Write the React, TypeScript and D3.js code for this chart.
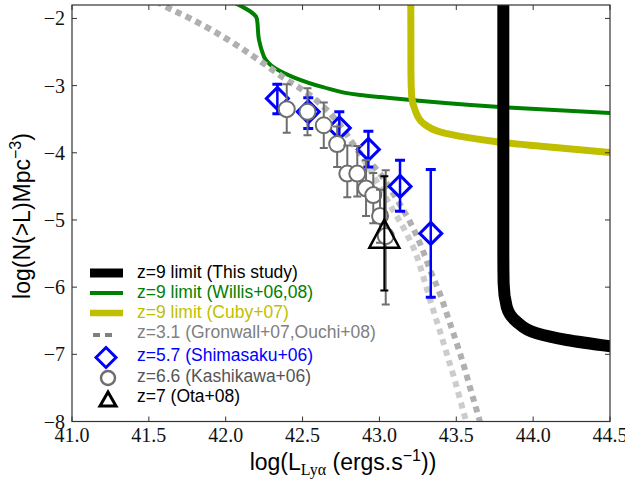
import React from "react";
import * as d3 from "d3";

// ---- data ----
const thisStudyL = [43.806, 43.806, 43.808, 43.828, 43.893, 44.023, 44.219, 44.55];
const thisStudyN = [-1.7, -5.5, -5.943, -6.292, -6.515, -6.688, -6.787, -6.895];

const willisL = [42.06, 42.202, 42.217, 42.234, 42.262, 42.301, 42.353, 42.438, 42.633, 42.874, 43.004, 43.785, 44.55];
const willisN = [-1.77, -2.0, -2.323, -2.472, -2.62, -2.71, -2.784, -2.873, -3.022, -3.141, -3.171, -3.32, -3.415];

const cubyL = [43.204, 43.205, 43.21, 43.232, 43.284, 43.394, 43.568, 43.763, 44.088, 44.55];
const cubyN = [-1.7, -2.8, -3.167, -3.365, -3.558, -3.688, -3.771, -3.836, -3.911, -4.005];

const gronwallL = [41.55, 41.592, 41.768, 41.93, 42.093, 42.243, 42.399, 42.529, 42.724, 42.854, 42.95, 43.02, 43.088, 43.18, 43.245, 43.29, 43.342, 43.394, 43.446, 43.492, 43.54, 43.57];
const gronwallN = [-1.74, -1.8, -2.0, -2.2, -2.43, -2.665, -2.918, -3.11, -3.53, -3.95, -4.3, -4.58, -4.85, -5.22, -5.55, -5.88, -6.28, -6.66, -7.05, -7.4, -7.8, -8.05];

const ouchiL = [41.55, 41.592, 41.768, 41.93, 42.093, 42.243, 42.399, 42.529, 42.724, 42.854, 43.0, 43.115, 43.199, 43.277, 43.329, 43.394, 43.446, 43.505, 43.557, 43.59, 43.635, 43.66];
const ouchiN = [-1.74, -1.8, -2.0, -2.2, -2.43, -2.665, -2.918, -3.11, -3.53, -3.95, -4.3, -4.7, -5.03, -5.42, -5.74, -6.1, -6.45, -6.85, -7.23, -7.5, -7.85, -8.05];

const shimaL = [42.336, 42.537, 42.739, 42.928, 43.134, 43.334];
const shimaN = [-3.19, -3.39, -3.63, -3.95, -4.5, -5.2];
const shimaHi = [-2.98, -3.18, -3.39, -3.68, -4.11, -4.25];
const shimaLo = [-3.42, -3.64, -3.86, -4.21, -4.87, -6.15];

const kashiL = [42.397, 42.532, 42.638, 42.725, 42.791, 42.856, 42.913, 42.96, 43.004, 43.041];
const kashiN = [-3.35, -3.39, -3.59, -3.87, -4.31, -4.31, -4.53, -4.63, -4.94, -5.24];
const kashiHi = [-2.98, -3.04, -3.25, -3.61, -3.89, -3.9, -4.11, -4.3, -4.55, -4.26];
const kashiLo = [-3.7, -3.74, -3.93, -4.21, -4.66, -4.65, -4.94, -5.05, -5.34, -6.26];

const otaL = [43.032];
const otaN = [-5.22];
const otaHi = [-4.35];
const otaLo = [-6.05];

const xTicks = [41.0, 41.5, 42.0, 42.5, 43.0, 43.5, 44.0, 44.5];
const yTicks = [-8, -7, -6, -5, -4, -3, -2];

const legendLabels = [
  "z=9 limit (This study)",
  "z=9 limit (Willis+06,08)",
  "z=9 limit (Cuby+07)",
  "z=3.1 (Gronwall+07,Ouchi+08)",
  "z=5.7 (Shimasaku+06)",
  "z=6.6 (Kashikawa+06)",
  "z=7 (Ota+08)",
];

// ---- layout ----
const W = 625, H = 479;
const L = 72, R = 610, T = 5, B = 421.5;
const x = d3.scaleLinear().domain([41, 44.5]).range([L, R]);
const y = d3.scaleLinear().domain([-8, -1.8]).range([B, T]);

const BLUE = "#0000ff", GREEN = "#008000", YELLOW = "#bfbf00", GRAYT = "#808080", CIRC = "#6e6e6e";
const SANS = "'Liberation Sans', Arial, Helvetica, sans-serif";
const SERIF = "'Liberation Serif', 'Times New Roman', serif";

const zip = (a: number[], b: number[]) => a.map((v, i) => [v, b[i]] as [number, number]);
const lineY = d3.line<[number, number]>().x(d => x(d[0])).y(d => y(d[1])).curve(d3.curveMonotoneY);
const lineX = d3.line<[number, number]>().x(d => x(d[0])).y(d => y(d[1])).curve(d3.curveMonotoneX);

function ErrBar({ lx, n, hi, lo, color, w, cap, capW }: any) {
  const cx = x(lx);
  return (
    <g stroke={color} fill="none">
      <line x1={cx} x2={cx} y1={y(hi)} y2={y(lo)} strokeWidth={w} />
      <line x1={cx - cap} x2={cx + cap} y1={y(hi)} y2={y(hi)} strokeWidth={capW} />
      <line x1={cx - cap} x2={cx + cap} y1={y(lo)} y2={y(lo)} strokeWidth={capW} />
    </g>
  );
}

const diamond = (cx: number, cy: number, s: number) =>
  `M${cx},${cy - s}L${cx + s},${cy}L${cx},${cy + s}L${cx - s},${cy}Z`;
const triangle = (cx: number, cy: number, hw: number, up: number, down: number) =>
  `M${cx},${cy - up}L${cx + hw},${cy + down}L${cx - hw},${cy + down}Z`;

export default function App() {
  const legendRows = [272, 292, 312, 332, 355, 376, 396];
  const legendColors = ["#000000", GREEN, YELLOW, GRAYT, BLUE, "#555555", "#000000"];
  return (
    <svg width={W} height={H} style={{ position: "absolute", left: 0, top: 0, background: "#fff" }}>
      <defs>
        <clipPath id="plot">
          <rect x={L} y={T} width={R - L} height={B - T} />
        </clipPath>
      </defs>
      <rect x={0} y={0} width={W} height={H} fill="#fff" />
      <g clipPath="url(#plot)">
        <path d={lineY(zip(willisL, willisN))!} stroke={GREEN} strokeWidth={4} fill="none" />
        <path d={lineY(zip(cubyL, cubyN))!} stroke={YELLOW} strokeWidth={7} fill="none" />
        <path d={lineY(zip(thisStudyL, thisStudyN))!} stroke="#000" strokeWidth={12} fill="none" />
        <path d={lineX(zip(gronwallL, gronwallN))!} stroke="#cccccc" strokeWidth={6} strokeDasharray="6,5" fill="none" />
        <path d={lineX(zip(ouchiL, ouchiN))!} stroke="#b0b0b0" strokeWidth={6} strokeDasharray="6,5" fill="none" />

        {shimaL.map((l, i) => (
          <g key={"s" + i}>
            <ErrBar lx={l} n={shimaN[i]} hi={shimaHi[i]} lo={shimaLo[i]} color={BLUE} w={2.5} cap={5} capW={3} />
            <path d={diamond(x(l), y(shimaN[i]), 11)} stroke={BLUE} strokeWidth={3} fill="none" />
          </g>
        ))}
        {kashiL.map((l, i) => (
          <g key={"k" + i}>
            <ErrBar lx={l} n={kashiN[i]} hi={kashiHi[i]} lo={kashiLo[i]} color={CIRC} w={2} cap={4} capW={2} />
            <circle cx={x(l)} cy={y(kashiN[i])} r={8} stroke={CIRC} strokeWidth={2} fill="#fff" />
          </g>
        ))}
        {otaL.map((l, i) => (
          <g key={"o" + i}>
            <ErrBar lx={l} n={otaN[i]} hi={otaHi[i]} lo={otaLo[i]} color="#000" w={2} cap={4} capW={2} />
            <path d={triangle(x(l), y(otaN[i]), 15, 15, 13)} stroke="#000" strokeWidth={2.5} fill="none" />
          </g>
        ))}
      </g>

      {/* frame */}
      <rect x={L} y={T} width={R - L} height={B - T} fill="none" stroke="#333" strokeWidth={1.2} />
      {/* ticks */}
      {xTicks.map(t => (
        <g key={"xt" + t}>
          <line x1={x(t)} x2={x(t)} y1={B} y2={B - 5} stroke="#333" />
          <line x1={x(t)} x2={x(t)} y1={T} y2={T + 5} stroke="#333" />
          <text x={x(t)} y={442} fontFamily={SERIF} fontSize={20} textAnchor="middle" fill="#111">
            {d3.format(".1f")(t)}
          </text>
        </g>
      ))}
      {yTicks.map(t => (
        <g key={"yt" + t}>
          <line x1={L} x2={L + 5} y1={y(t)} y2={y(t)} stroke="#333" />
          <line x1={R} x2={R - 5} y1={y(t)} y2={y(t)} stroke="#333" />
          <text x={65} y={y(t)} dy="0.35em" fontFamily={SERIF} fontSize={20} textAnchor="end" fill="#111">
            {"\u2212" + Math.abs(t)}
          </text>
        </g>
      ))}

      {/* axis labels */}
      <text x={343} y={470} fontFamily={SANS} fontSize={23} textAnchor="middle" fill="#000">
        log(L
        <tspan fontFamily={SERIF} fontSize={16} dy={5}>Lyα</tspan>
        <tspan dy={-5}> (ergs.s</tspan>
        <tspan fontSize={16} dy={-9}>{"\u22121"}</tspan>
        <tspan dy={9}>))</tspan>
      </text>
      <text transform="translate(30,216) rotate(-90)" fontFamily={SANS} fontSize={23} textAnchor="middle" fill="#000">
        log(N(&gt;L)Mpc
        <tspan fontSize={16} dy={-9}>{"\u22123"}</tspan>
        <tspan dy={9}>)</tspan>
      </text>

      {/* legend */}
      <g>
        <line x1={90} x2={123} y1={legendRows[0] + 1} y2={legendRows[0] + 1} stroke="#000" strokeWidth={9} />
        <line x1={90} x2={123} y1={legendRows[1] + 1} y2={legendRows[1] + 1} stroke={GREEN} strokeWidth={4} />
        <line x1={90} x2={123} y1={legendRows[2] + 1} y2={legendRows[2] + 1} stroke={YELLOW} strokeWidth={6.5} />
        <line x1={93} x2={112} y1={legendRows[3] + 3} y2={legendRows[3] + 3} stroke={GRAYT} strokeWidth={4} strokeDasharray="7,5" />
        <path d={diamond(106, legendRows[4] + 2.5, 10)} stroke={BLUE} strokeWidth={3} fill="none" />
        <circle cx={108} cy={legendRows[5] + 2} r={7} stroke={CIRC} strokeWidth={2.5} fill="#fff" />
        <path d={triangle(108, legendRows[6] + 4, 8, 8, 6)} stroke="#000" strokeWidth={3} fill="none" />
        {legendLabels.map((s, i) => (
          <text key={s} x={137} y={legendRows[i]} dy="0.35em" fontFamily={SANS} fontSize={17.5} fill={legendColors[i]}>
            {s}
          </text>
        ))}
      </g>
    </svg>
  );
}
